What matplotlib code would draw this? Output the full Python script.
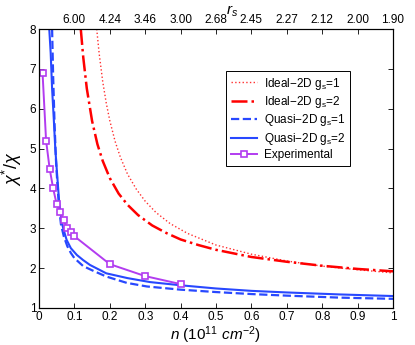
import matplotlib
matplotlib.use("Agg")
import matplotlib.pyplot as plt

plt.rcParams['font.family'] = ['Liberation Sans', 'DejaVu Sans']
plt.rcParams['mathtext.fontset'] = 'custom'
plt.rcParams['mathtext.rm'] = 'Liberation Sans'
plt.rcParams['mathtext.it'] = 'Liberation Sans:italic'

# ---- data ----
n_ideal1 = [0.163, 0.170, 0.180, 0.190, 0.200, 0.215, 0.230, 0.250, 0.275, 0.300, 0.330, 0.370,
            0.420, 0.500, 0.600, 0.700, 0.800, 0.900, 1.000]
y_ideal1 = [8.00, 7.38, 6.68, 6.14, 5.70, 5.18, 4.78, 4.36, 3.98, 3.68, 3.40, 3.12,
            2.87, 2.58, 2.35, 2.18, 2.05, 1.96, 1.88]

n_ideal2 = [0.118, 0.125, 0.135, 0.150, 0.165, 0.180, 0.200, 0.225, 0.250, 0.280, 0.320, 0.360,
            0.400, 0.450, 0.500, 0.600, 0.700, 0.800, 0.900, 1.000]
y_ideal2 = [8.00, 7.29, 6.51, 5.69, 5.11, 4.69, 4.26, 3.87, 3.59, 3.33, 3.07, 2.88,
            2.72, 2.58, 2.46, 2.28, 2.16, 2.06, 1.98, 1.92]

n_quasi1 = [0.037, 0.040, 0.044, 0.048, 0.052, 0.056, 0.062, 0.070, 0.080, 0.090, 0.100, 0.125, 0.154,
            0.190, 0.248, 0.305, 0.400, 0.500, 0.600, 0.700, 0.850, 1.000]
y_quasi1 = [8.00, 6.80, 5.60, 4.70, 4.10, 3.60, 3.10, 2.80, 2.55, 2.38, 2.25, 2.05, 1.93,
            1.79, 1.63, 1.54, 1.46, 1.40, 1.35, 1.31, 1.26, 1.23]

n_quasi2 = [0.029, 0.033, 0.037, 0.042, 0.046, 0.050, 0.057, 0.064, 0.070, 0.078, 0.090, 0.107, 0.125,
            0.144, 0.190, 0.250, 0.314, 0.400, 0.500, 0.600, 0.700, 0.850, 1.000]
y_quasi2 = [8.00, 7.40, 6.50, 5.70, 5.00, 4.50, 3.65, 3.15, 2.95, 2.71, 2.50, 2.33, 2.20,
            2.08, 1.87, 1.75, 1.65, 1.57, 1.49, 1.43, 1.39, 1.34, 1.30]

n_exp = [0.01, 0.02, 0.03, 0.04, 0.05, 0.06, 0.07, 0.08, 0.09, 0.10, 0.20, 0.30, 0.40]
y_exp = [6.9, 5.2, 4.5, 4.0, 3.6, 3.4, 3.2, 3.0, 2.9, 2.8, 2.1, 1.8, 1.6]

x_ticks = [0, 0.1, 0.2, 0.3, 0.4, 0.5, 0.6, 0.7, 0.8, 0.9, 1.0]
x_ticklabels = ['0', '0.1', '0.2', '0.3', '0.4', '0.5', '0.6', '0.7', '0.8', '0.9', '1']
y_ticks = [1, 2, 3, 4, 5, 6, 7, 8]
top_ticks = [0.1, 0.2, 0.3, 0.4, 0.5, 0.6, 0.7, 0.8, 0.9, 1.0]
top_ticklabels = ['6.00', '4.24', '3.46', '3.00', '2.68', '2.45', '2.27', '2.12', '2.00', '1.90']

labels = ['Ideal\u22122D g$\\mathregular{_s}$=1', 'Ideal\u22122D g$\\mathregular{_s}$=2',
          'Quasi\u22122D g$\\mathregular{_s}$=1', 'Quasi\u22122D g$\\mathregular{_s}$=2', 'Experimental']

fig = plt.figure(figsize=(4.15, 3.45), dpi=100)
ax = fig.add_axes([39/415, 37/345, 354/415, 279/345])

ax.plot(n_ideal1, y_ideal1, ':', color='#ff3030', lw=1.0, label=labels[0])
ax.plot(n_ideal2, y_ideal2, '-.', color='#ff0000', lw=1.8, label=labels[1])
ax.plot(n_quasi1, y_quasi1, '--', color='#2848ff', lw=1.6, label=labels[2])
ax.plot(n_quasi2, y_quasi2, '-', color='#2848ff', lw=1.5, label=labels[3])
ax.plot(n_exp, y_exp, '-s', color='#b23cf0', lw=1.4, ms=5, mfc='white', mec='#b23cf0', mew=1.2,
        label=labels[4])

ax.set_xlim(0, 1)
ax.set_ylim(1, 8)
ax.set_xticks(x_ticks)
ax.set_xticklabels(x_ticklabels)
ax.set_yticks(y_ticks)
ax.tick_params(direction='in', length=3.5, width=0.6, labelsize=8.5, right=True, top=False, pad=2)
for s in ax.spines.values():
    s.set_linewidth(0.8)

ax2 = ax.twiny()
ax2.set_xlim(0, 1)
ax2.set_xticks(top_ticks)
ax2.set_xticklabels(top_ticklabels)
ax2.tick_params(direction='in', length=3.5, width=0.6, labelsize=8.5, pad=2)

ax.set_xlabel(r'$\mathit{n\ (10^{11}\ cm^{-2})}$', fontsize=11, labelpad=1)
ax.set_ylabel(r'$\mathit{\chi^{*}/\chi}$', fontsize=13, labelpad=4)
fig.text(226/415, 1 - 11/345, r'$\mathit{r_s}$', fontsize=11, ha='left', va='center')

leg = ax.legend(loc='upper left', bbox_to_anchor=(0.528, 0.85), borderaxespad=0,
                fontsize=8.5, fancybox=False, edgecolor='black', framealpha=1,
                handlelength=2.2, handletextpad=0.6, labelspacing=0.2, borderpad=0.4)
leg.get_frame().set_linewidth(0.7)

fig.savefig('out.png', dpi=100)
